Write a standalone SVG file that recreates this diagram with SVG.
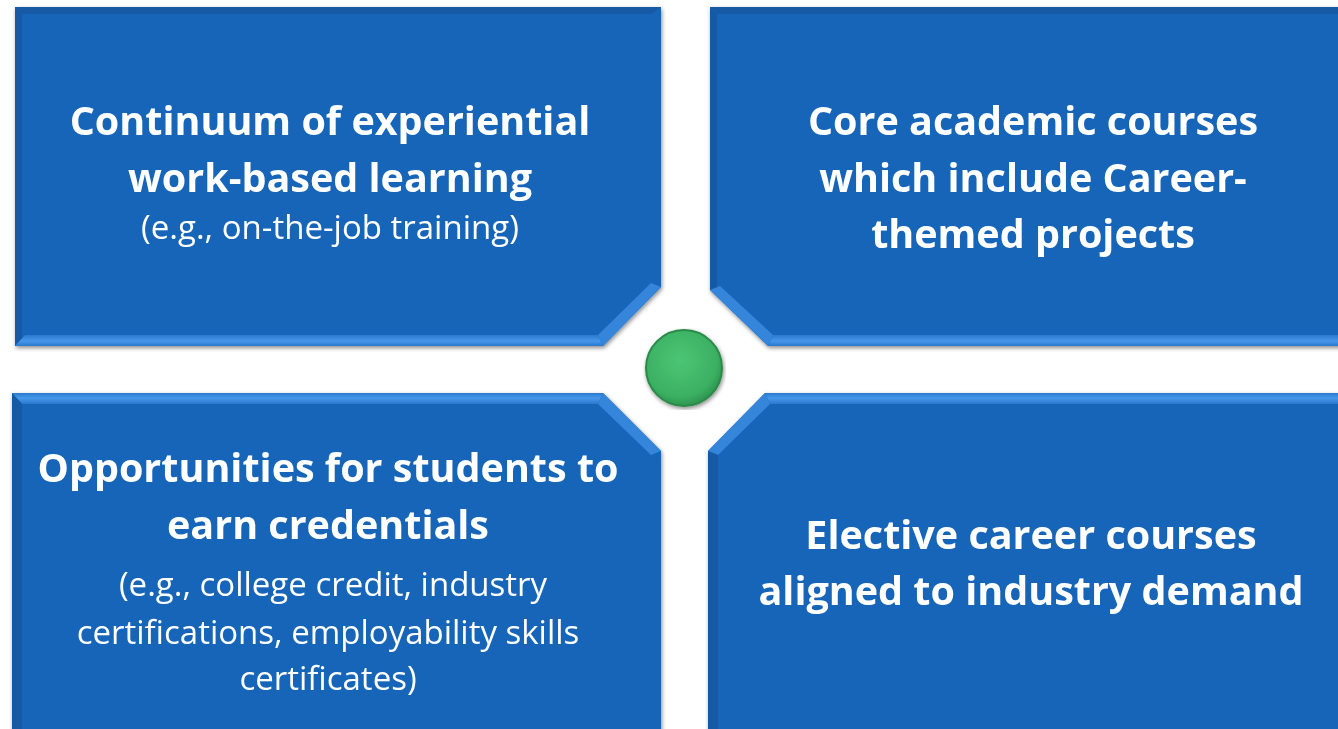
<svg xmlns="http://www.w3.org/2000/svg" width="1338" height="729" viewBox="0 0 1338 729">
<defs>
<filter id="sh" x="-5%" y="-5%" width="110%" height="110%">
<feGaussianBlur in="SourceAlpha" stdDeviation="2"/>
<feOffset dx="1" dy="2" result="b"/>
<feFlood flood-color="#000" flood-opacity="0.45"/>
<feComposite in2="b" operator="in"/>
<feMerge><feMergeNode/><feMergeNode in="SourceGraphic"/></feMerge>
</filter>
<linearGradient id="bevB" x1="0" y1="0" x2="0" y2="1">
<stop offset="0" stop-color="#2a79cf"/><stop offset="0.55" stop-color="#4697ec"/><stop offset="1" stop-color="#2a78cc"/>
</linearGradient>
<linearGradient id="bevT" x1="0" y1="1" x2="0" y2="0">
<stop offset="0" stop-color="#2a79cf"/><stop offset="0.55" stop-color="#4697ec"/><stop offset="1" stop-color="#2a78cc"/>
</linearGradient>
<radialGradient id="gr" cx="0.45" cy="0.4" r="0.6">
<stop offset="0" stop-color="#4cc673"/><stop offset="0.8" stop-color="#3bb062"/><stop offset="1" stop-color="#2e9550"/>
</radialGradient>
</defs>
<style>
.box{fill:#1565b8;}
.dk{fill:#135aa5;}
.lt{fill:#3585da;}
.b{font-family:"Open Sans","Liberation Sans",sans-serif;font-weight:bold;font-size:39.5px;fill:#fff;text-anchor:middle;}
.r{font-family:"Open Sans","Liberation Sans",sans-serif;font-size:33px;fill:#fff;text-anchor:middle;}
</style>
<rect width="1338" height="729" fill="#fff"/>

<g id="node-tl" filter="url(#sh)">
<polygon class="box" points="15,7 661,7 661,287 603,346 15,346"/>
<polygon class="dk" points="15,7 661,7 651,14 22,14"/>
<polygon class="dk" points="15,7 22,14 22,338 15,346"/>
<polygon fill="url(#bevB)" points="15,346 603,346 598,335 25,335"/>
<polygon class="lt" points="603,346 661,287 651,283 598,335"/>
<text class="b" x="330" y="135">Continuum of experiential</text>
<text class="b" x="330" y="192">work-based learning</text>
<text class="r" x="330" y="239">(e.g., on-the-job training)</text>
</g>

<g id="node-tr" filter="url(#sh)">
<polygon class="box" points="710,7 1345,7 1345,346 768,346 710,290"/>
<polygon class="dk" points="710,7 1345,7 1345,14 717,14"/>
<polygon class="dk" points="710,7 717,14 717,287 710,290"/>
<polygon fill="url(#bevB)" points="768,346 1345,346 1345,335 773,335"/>
<polygon class="lt" points="710,290 768,346 773,335 720,286"/>
<text class="b" x="1033" y="135">Core academic courses</text>
<text class="b" x="1033" y="192">which include Career-</text>
<text class="b" x="1033" y="248">themed projects</text>
</g>

<g id="node-bl" filter="url(#sh)">
<polygon class="box" points="12,393 603,393 661,451 661,740 12,740"/>
<polygon fill="url(#bevT)" points="12,393 603,393 598,404 22,404"/>
<polygon class="lt" points="603,393 661,451 651,455 598,404"/>
<polygon class="dk" points="12,393 22,404 22,740 12,740"/>
<text class="b" x="328" y="482">Opportunities for students to</text>
<text class="b" x="328" y="539">earn credentials</text>
<text class="r" x="333" y="596">(e.g., college credit, industry</text>
<text class="r" x="328" y="644">certifications, employability skills</text>
<text class="r" x="328" y="690">certificates)</text>
</g>

<g id="node-br" filter="url(#sh)">
<polygon class="box" points="708,451 765,393 1345,393 1345,740 708,740"/>
<polygon fill="url(#bevT)" points="765,393 1345,393 1345,404 770,404"/>
<polygon class="lt" points="708,451 765,393 770,404 718,455"/>
<polygon class="dk" points="708,451 718,455 718,740 708,740"/>
<text class="b" x="1031" y="549">Elective career courses</text>
<text class="b" x="1031" y="605">aligned to industry demand</text>
</g>

<g id="node-center" filter="url(#sh)">
<circle cx="684" cy="368" r="38" fill="url(#gr)" stroke="#2a8a48" stroke-width="2"/>
</g>

<g id="connectors"></g>
</svg>
